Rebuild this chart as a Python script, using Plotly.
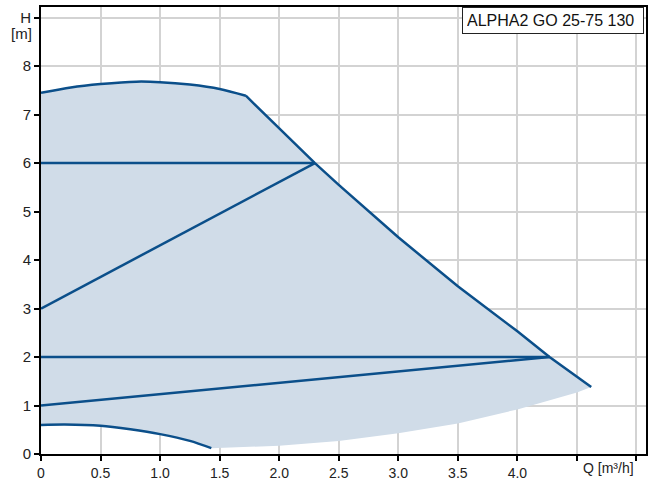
import plotly.graph_objects as go

# Max curve: curved part and straight part
max_curve_q = [0, 0.25, 0.5, 0.8, 1.0, 1.25, 1.5, 1.72]
max_curve_h = [7.45, 7.56, 7.63, 7.68, 7.67, 7.62, 7.53, 7.39]
max_line_q = [1.72, 2.3, 2.5, 3.0, 3.5, 4.0, 4.27, 4.62]
max_line_h = [7.39, 6.0, 5.55, 4.47, 3.46, 2.53, 2.0, 1.38]

# Min curve (drawn line)
min_q = [0, 0.2, 0.5, 0.75, 1.0, 1.25, 1.43]
min_h = [0.60, 0.61, 0.585, 0.51, 0.41, 0.27, 0.12]

# Lower edge of the operating area (fill only)
edge_q = [1.43, 2.0, 2.5, 3.0, 3.5, 4.0, 4.5, 4.62]
edge_h = [0.12, 0.17, 0.27, 0.43, 0.63, 0.92, 1.27, 1.38]

# Control curves
cp_hi_q = [0, 2.3]
cp_hi_h = [6, 6]
pp_hi_q = [0, 2.3]
pp_hi_h = [3, 6]
cp_lo_q = [0, 4.27]
cp_lo_h = [2, 2]
pp_lo_q = [0, 4.27]
pp_lo_h = [1, 2]

x_ticks = [0, 0.5, 1.0, 1.5, 2.0, 2.5, 3.0, 3.5, 4.0, 4.5, 5.0]
x_labels = ["0", "0.5", "1.0", "1.5", "2.0", "2.5", "3.0", "3.5", "4.0", "", ""]
y_ticks = [0, 1, 2, 3, 4, 5, 6, 7, 8, 9]
y_labels = ["0", "1", "2", "3", "4", "5", "6", "7", "8", "H"]

LINE = "#0b4f8a"
FILL = "rgb(208,220,232)"
FONT = "Liberation Sans, Arial"

fig = go.Figure()

poly_q = max_curve_q + max_line_q[1:] + edge_q[::-1] + min_q[::-1]
poly_h = max_curve_h + max_line_h[1:] + edge_h[::-1] + min_h[::-1]
fig.add_trace(go.Scatter(x=poly_q, y=poly_h, fill="toself", fillcolor=FILL,
                         mode="none", hoverinfo="skip"))

fig.add_trace(go.Scatter(x=max_curve_q, y=max_curve_h, mode="lines",
                         line=dict(color=LINE, width=2.5, shape="spline", smoothing=0.8)))
fig.add_trace(go.Scatter(x=min_q, y=min_h, mode="lines",
                         line=dict(color=LINE, width=2.5, shape="spline", smoothing=0.8)))
for q, h in [(max_line_q, max_line_h), (cp_hi_q, cp_hi_h), (pp_hi_q, pp_hi_h),
             (cp_lo_q, cp_lo_h), (pp_lo_q, pp_lo_h)]:
    fig.add_trace(go.Scatter(x=q, y=h, mode="lines",
                             line=dict(color=LINE, width=2.5)))

axis_common = dict(showline=True, linecolor="black", linewidth=2, mirror=True,
                   showgrid=True, gridcolor="#d3d3d3", gridwidth=1.5,
                   ticks="outside", ticklen=5, tickwidth=2, tickcolor="black",
                   zeroline=False, automargin=False)

fig.update_layout(
    width=649, height=480,
    margin=dict(l=41, r=3, t=7, b=26),
    paper_bgcolor="white", plot_bgcolor="white",
    showlegend=False,
    xaxis=dict(range=[0, 5.08], tickvals=x_ticks, ticktext=x_labels,
               tickfont=dict(family=FONT, size=14, color="#222"), **axis_common),
    yaxis=dict(range=[0, 9.22], tickvals=y_ticks, ticktext=y_labels,
               tickfont=dict(family=FONT, size=15, color="#222"), **axis_common),
    annotations=[
        dict(text="[m]", xref="paper", yref="y", x=0, y=8.68, xanchor="right",
             xshift=-7, yanchor="middle", showarrow=False,
             font=dict(family=FONT, size=15, color="#222")),
        dict(text="Q [m³/h]", xref="x", yref="paper", x=5.0, y=0, xanchor="right",
             yanchor="top", yshift=-4, xshift=0, showarrow=False,
             font=dict(family=FONT, size=14, color="#222")),
        dict(text="ALPHA2 GO 25-75 130", xref="paper", yref="paper", x=1, y=1,
             xanchor="right", yanchor="top", xshift=-2, yshift=0, showarrow=False,
             bordercolor="#222", borderwidth=1, bgcolor="white", borderpad=4,
             width=172, align="left",
             font=dict(family=FONT, size=16, color="#111")),
    ],
)

fig.write_html("out.html", config={"displayModeBar": False},
               post_script="document.body.style.margin='0px';document.body.style.overflow='hidden';")
